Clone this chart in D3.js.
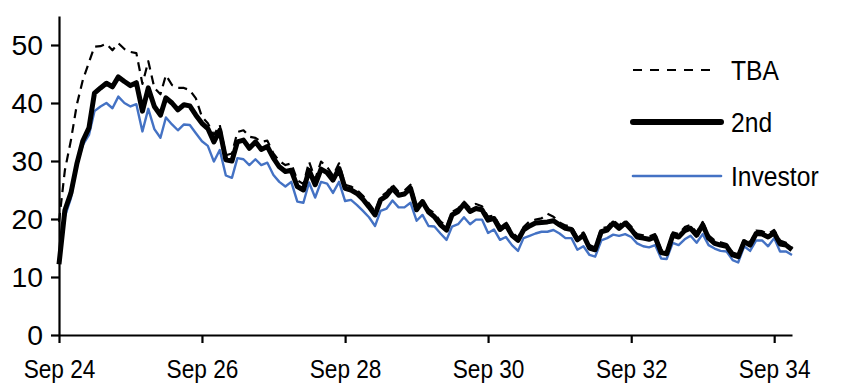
<!DOCTYPE html>
<html><head><meta charset="utf-8">
<script src="https://cdn.jsdelivr.net/npm/d3@7"></script>
<style>
html,body{margin:0;padding:0;background:#fff;}
svg{display:block;}
text{font-family:"Liberation Sans Narrow","Arial Narrow","Liberation Sans",Arial,sans-serif;fill:#000;}
</style></head>
<body>
<svg id="c" width="852" height="391"></svg>
<script>
const startMonth = "2024-09";
const seriesNames = ["TBA", "2nd", "Investor"];
const tba = [19.5,28.4,33.6,39.7,44.0,47.0,49.7,49.8,50.2,49.1,50.3,49.3,48.8,48.6,43.3,47.2,42.6,41.5,44.8,43.1,42.6,42.6,42.2,40.8,37.6,36.5,34.5,36.2,31.0,31.3,35.0,35.3,
34.2,34.0,33.3,33.5,31.3,30.0,29.3,29.6,26.7,26.0,29.9,26.9,29.9,29.0,27.5,29.6,25.9,25.6,25.0,24.0,22.7,21.3,23.8,24.6,25.9,24.7,24.9,25.9,22.3,23.2,21.7,
21.0,19.6,18.7,21.2,21.8,23.0,21.9,22.6,22.2,20.4,20.6,18.8,19.5,17.7,16.8,18.6,19.6,19.9,20.1,20.9,20.4,19.4,18.9,18.7,16.9,17.7,15.5,15.1,18.4,18.6,19.8,
18.9,19.8,18.7,17.4,17.2,17.0,17.4,14.7,14.4,17.7,17.4,18.6,19.0,17.7,19.5,17.2,16.3,16.0,15.7,14.2,13.9,16.6,16.0,18.0,17.9,17.4,18.1,16.3,15.9,15.1];
const second = [12.2,21.5,24.5,29.5,33.5,35.7,41.7,42.6,43.4,42.8,44.5,43.7,43.0,43.5,38.6,42.6,39.4,37.9,40.9,40.0,38.8,39.7,39.5,37.9,36.5,35.6,33.3,35.3,30.2,30.0,33.3,33.6,
32.2,33.3,32.0,32.5,30.5,29.0,28.2,28.4,25.6,25.0,28.4,25.9,28.6,28.0,26.7,28.7,25.3,25.0,24.4,23.4,22.1,20.7,23.3,24.0,25.3,24.1,24.3,25.3,21.6,23.0,21.2,
20.4,19.0,18.1,20.7,21.3,22.6,21.3,21.8,21.6,19.8,20.1,18.2,19.0,17.2,16.3,18.1,18.8,19.3,19.4,19.5,19.7,19.0,18.4,18.2,16.4,17.2,15.0,14.7,17.8,18.1,19.3,
18.4,19.3,18.2,16.9,16.7,16.5,16.9,14.2,14.0,17.2,16.9,18.0,18.4,17.2,19.0,16.7,15.8,15.5,15.3,13.8,13.5,16.1,15.5,17.5,17.4,16.9,17.6,15.7,15.5,14.7];
const investor = [12.6,20.4,23.6,29.3,32.8,34.5,38.6,39.4,40.0,39.1,41.1,40.0,39.4,39.8,35.1,39.0,35.5,34.0,37.5,36.3,35.3,36.3,36.2,34.8,33.4,32.6,29.9,31.9,27.5,27.1,30.5,30.3,
29.3,30.3,29.3,29.7,27.6,26.4,25.6,26.4,23.0,22.8,26.3,23.7,26.4,26.1,24.5,26.4,23.1,23.3,22.4,21.4,20.3,18.8,21.4,21.8,23.2,22.0,22.0,22.8,19.7,20.7,18.8,
18.7,17.5,16.4,18.7,19.1,20.3,19.1,19.9,19.9,17.6,18.2,16.4,16.9,15.5,14.5,16.7,17.1,17.5,17.8,17.8,18.1,17.5,16.7,16.7,14.7,15.3,13.8,13.5,16.3,16.7,17.3,
17.1,17.4,16.9,15.8,15.3,15.1,15.5,13.2,13.1,15.9,15.5,16.5,17.1,15.9,17.4,15.5,14.9,14.5,14.4,12.9,12.5,15.3,14.5,16.3,16.3,15.3,16.7,14.4,14.4,13.8];
const xTickLabels = ["Sep 24","Sep 26","Sep 28","Sep 30","Sep 32","Sep 34"];
const yTicks = [0,10,20,30,40,50];

const svg = d3.select("#c");
const parseM = d3.utcParse("%Y-%m");
const t0 = parseM(startMonth);
const dates = tba.map((_, i) => d3.utcMonth.offset(t0, i));
const x = d3.scaleUtc().domain([t0, d3.utcMonth.offset(t0, 123)]).range([59, 792]);
const y = d3.scaleLinear().domain([0, 55]).range([335, 16]);

const xTickDates = xTickLabels.map((_, k) => d3.utcYear.offset(t0, 2 * k));
const SX = 0.87;
const fontFam = '"Liberation Sans Narrow","Arial Narrow","Liberation Sans",Arial,sans-serif';

// axes
const gx = svg.append("g").attr("transform", "translate(0,335)")
  .call(d3.axisBottom(x).tickValues(xTickDates).tickSize(8).tickSizeOuter(0)
    .tickFormat((d, i) => xTickLabels[i]));
const gy = svg.append("g").attr("transform", "translate(59,0)")
  .call(d3.axisLeft(y).tickValues(yTicks).tickSize(8).tickSizeOuter(0));
[gx, gy].forEach(g => {
  g.select(".domain").attr("stroke", "#000").attr("stroke-width", 2.2);
  g.selectAll(".tick line").attr("stroke", "#000").attr("stroke-width", 2.2);
  g.selectAll("text").attr("fill", "#000").style("font-family", fontFam);
});
gx.selectAll("text").attr("font-size", 26).attr("transform", `scale(${SX},1)`)
  .attr("dy", null).attr("y", 43);
gy.selectAll("text").attr("font-size", 27).attr("transform", "scale(1.05,1)")
  .attr("x", -16 / 1.05).attr("dy", "0.36em");

const line = d3.line().x((d, i) => x(dates[i])).y(d => y(d));
const styles = [
  {data: investor, color: "#4472C4", w: 2.4, dash: null},
  {data: second, color: "#000", w: 5, dash: null},
  {data: tba, color: "#000", w: 2.2, dash: "9,6"}
];
styles.forEach(s => {
  svg.append("path").datum(s.data).attr("d", line)
    .attr("fill", "none").attr("stroke", s.color).attr("stroke-width", s.w)
    .attr("stroke-linejoin", "round")
    .attr("stroke-dasharray", s.dash);
});

// legend
const legend = [
  {name: seriesNames[0], color: "#000", w: 2.2, dash: "9,8", y: 70, x2: 717},
  {name: seriesNames[1], color: "#000", w: 6, dash: null, y: 122, x2: 721},
  {name: seriesNames[2], color: "#4472C4", w: 2.6, dash: null, y: 176, x2: 721}
];
legend.forEach(l => {
  svg.append("line").attr("x1", 633).attr("x2", l.x2).attr("y1", l.y).attr("y2", l.y)
    .attr("stroke", l.color).attr("stroke-width", l.w)
    .attr("stroke-linecap", l.dash ? "butt" : "round")
    .attr("stroke-dasharray", l.dash);
  svg.append("text").attr("transform", `translate(731,${l.y}) scale(0.88,1)`)
    .attr("dy", "0.36em").attr("font-size", 28).text(l.name);
});
</script>
</body></html>
